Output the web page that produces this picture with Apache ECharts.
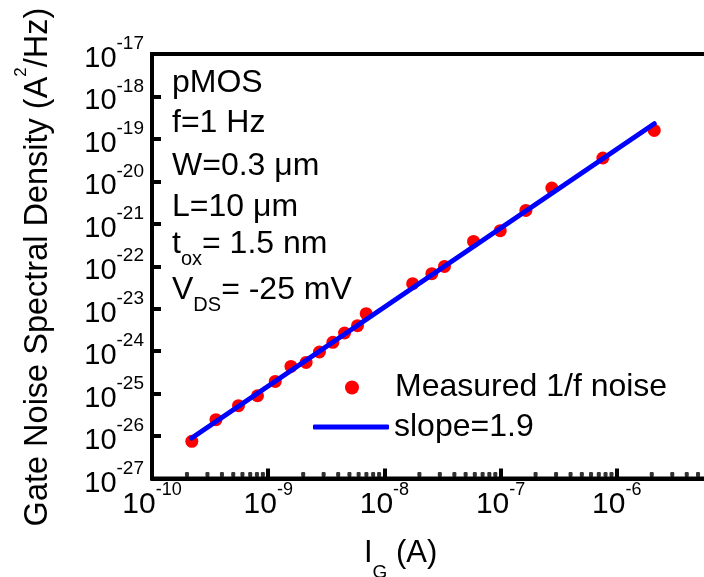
<!DOCTYPE html>
<html><head><meta charset="utf-8">
<script src="https://cdn.jsdelivr.net/npm/echarts@6/dist/echarts.min.js"></script>
<style>html,body{margin:0;padding:0;background:#fff}#c{width:704px;height:577px}</style>
</head><body><div id="c"></div>
<script>
// Measured 1/f gate noise
const currentA = [2.2e-10, 3.55e-10, 5.55e-10, 8.09e-10, 1.15e-9, 1.57e-9, 2.12e-9, 2.76e-9, 3.6e-9, 4.54e-9, 5.87e-9, 6.97e-9, 1.75e-8, 2.56e-8, 3.29e-8, 5.85e-8, 9.93e-8, 1.65e-7, 2.76e-7, 7.59e-7, 2.1e-6];
const noise = [7.5e-27, 2.43e-26, 5.19e-26, 8.9e-26, 1.94e-25, 4.37e-25, 5.43e-25, 9.55e-25, 1.61e-24, 2.68e-24, 3.98e-24, 7.62e-24, 3.88e-23, 6.68e-23, 9.92e-23, 3.85e-22, 6.88e-22, 2.07e-21, 6.97e-21, 3.55e-20, 1.58e-19];
// Fit line endpoints
const fitX = [2.2e-10, 2.1e-6];
const fitY = [9.0e-27, 2.28e-19];
// Minor tick positions on the x axis
const minorTicks = [2e-10,3e-10,4e-10,5e-10,6e-10,7e-10,8e-10,9e-10,
  2e-9,3e-9,4e-9,5e-9,6e-9,7e-9,8e-9,9e-9,
  2e-8,3e-8,4e-8,5e-8,6e-8,7e-8,8e-8,9e-8,
  2e-7,3e-7,4e-7,5e-7,6e-7,7e-7,8e-7,9e-7,
  2e-6,3e-6,4e-6,5e-6,6e-6,7e-6,8e-6,9e-6];
const xRange = [1e-10, 1e-5];
const yRange = [1e-27, 1e-17];
const seriesNames = ['Measured 1/f noise', 'slope=1.9'];
const xTitle = ['I', 'G', ' (A)'];
const yTitle = ['Gate Noise Spectral Density (A', '2', '/Hz)'];
const notes = ['pMOS', 'f=1 Hz', 'W=0.3 μm', 'L=10 μm'];
const noteSub = [['t', 'ox', '= 1.5 nm'], ['V', 'DS', '= -25 mV']];

const FF = '"Liberation Sans", Arial, sans-serif';
const chart = echarts.init(document.getElementById('c'), null, {renderer: 'canvas'});

function expLabel(v) {
  const e = Math.round(Math.log10(v));
  return '{b|10}{s|' + (e < 0 ? '-' + (-e) : e) + '}';
}
const yLabelRich = {
  b: {fontSize: 29, lineHeight: 29, padding: [10, 0, 0, 0], fontFamily: FF, color: '#000', fill: '#000'},
  s: {fontSize: 19, lineHeight: 19, padding: [0, 0, 20, 0], fontFamily: FF, color: '#000', fill: '#000'}
};

const noteCenters = [82.7, 123.3, 166, 206.7];
const graphics = [];
notes.forEach((t, i) => {
  graphics.push({type: 'text', left: 172, top: noteCenters[i] - 16, z: 10,
    style: {text: '{a|' + t + '}', fill: '#000',
      rich: {a: {fontSize: 32, lineHeight: 32, fontFamily: FF, fill: '#000'}}}});
});
const subCenters = [244, 290.5];
noteSub.forEach((p, i) => {
  graphics.push({type: 'text', left: 172, top: subCenters[i] - 16, z: 10,
    style: {text: '{a|' + p[0] + '}{b|' + p[1] + '}{a|' + p[2] + '}', fill: '#000',
      rich: {
        a: {fontSize: 32, lineHeight: 32, padding: [0, 0, 16, 0], fontFamily: FF, fill: '#000'},
        b: {fontSize: 20, lineHeight: 20, padding: [21, 0, 7, 0], fontFamily: FF, fill: '#000'}
      }}});
});
// x-axis title
graphics.push({type: 'text', left: 364, top: 537.5, z: 10,
  style: {text: '{a|' + xTitle[0] + '}{b|' + xTitle[1] + '}{a|' + xTitle[2] + '}', fill: '#000',
    rich: {
      a: {fontSize: 31, lineHeight: 31, padding: [0, 0, 21, 0], fontFamily: FF, fill: '#000'},
      b: {fontSize: 19, lineHeight: 19, padding: [26, 0, 7, 0], fontFamily: FF, fill: '#000'}
    }}});
// y-axis title (rotated)
graphics.push({type: 'text', x: 33.5, y: 267, rotation: Math.PI / 2, z: 10,
  style: {text: '{t|' + yTitle[0] + '}{s|' + yTitle[1] + '}{t|' + yTitle[2] + '}', fill: '#000',
    align: 'center', verticalAlign: 'middle',
    rich: {
      t: {fontSize: 32.5, lineHeight: 32, padding: [10, 0, 0, 0], fontFamily: FF, fill: '#000'},
      s: {fontSize: 17, lineHeight: 17, padding: [0, 0, 25, 0], fontFamily: FF, fill: '#000'}
    }}});
// lowest y tick label (the axis hides it next to the x-axis labels)
graphics.push({type: 'text', x: 144, y: 478.5, z: 10,
  style: {text: expLabel(yRange[0]), fill: '#000', align: 'right', verticalAlign: 'middle', rich: yLabelRich}});

const legendText = {fontSize: 32, lineHeight: 32, color: '#000', fontFamily: FF};

chart.setOption({
  animation: false,
  backgroundColor: '#fff',
  grid: {left: 152, top: 54, width: 581, height: 424.5, show: true, borderColor: '#000', borderWidth: 4,
         containLabel: false, outerBoundsMode: 'none'},
  legend: [
    {data: [{name: seriesNames[0], icon: 'circle'}], left: 345, top: 371.5, orient: 'vertical', padding: 0,
     itemWidth: 76, itemHeight: 14, selectedMode: false, textStyle: legendText},
    {data: [{name: seriesNames[1], icon: 'roundRect'}], left: 313, top: 411, orient: 'vertical', padding: 0,
     itemWidth: 76, itemHeight: 5, selectedMode: false, textStyle: legendText}
  ],
  xAxis: {
    type: 'log', logBase: 10, min: xRange[0], max: xRange[1], interval: 1,
    axisLine: {lineStyle: {color: '#000', width: 4}},
    axisTick: {inside: true, length: 10, lineStyle: {color: '#000', width: 4}},
    splitLine: {show: false},
    axisLabel: {
      margin: 7, formatter: expLabel, color: '#000', showMinLabel: true, showMaxLabel: true, hideOverlap: false,
      rich: {
        b: {fontSize: 30, lineHeight: 30, padding: [8, 0, 0, 0], fontFamily: FF, color: '#000'},
        s: {fontSize: 18, lineHeight: 18, padding: [0, 0, 20, 0], fontFamily: FF, color: '#000'}
      }
    }
  },
  yAxis: {
    type: 'log', logBase: 10, min: yRange[0], max: yRange[1], interval: 1,
    axisLine: {lineStyle: {color: '#000', width: 4}},
    axisTick: {inside: true, length: 9, lineStyle: {color: '#000', width: 4}},
    splitLine: {show: false},
    axisLabel: {
      margin: 8, formatter: expLabel, color: '#000', showMinLabel: false, showMaxLabel: true, hideOverlap: false,
      rich: yLabelRich
    }
  },
  series: [
    {name: seriesNames[0], type: 'scatter', data: currentA.map((x, i) => [x, noise[i]]),
     symbol: 'circle', symbolSize: 13, itemStyle: {color: '#ff0000', opacity: 1}, z: 2},
    {name: seriesNames[1], type: 'line', data: fitX.map((x, i) => [x, fitY[i]]),
     symbol: 'none', lineStyle: {color: '#0000ff', width: 5, cap: 'round'}, itemStyle: {color: '#0000ff'}, z: 3},
    {name: 'minor', type: 'scatter', data: minorTicks.map(x => [x, yRange[0]]), clip: false, silent: true,
     symbol: 'roundRect', symbolSize: [4, 5], symbolOffset: [0, -4], itemStyle: {color: '#000'}, z: 4}
  ],
  graphic: graphics
});
</script>
</body></html>
